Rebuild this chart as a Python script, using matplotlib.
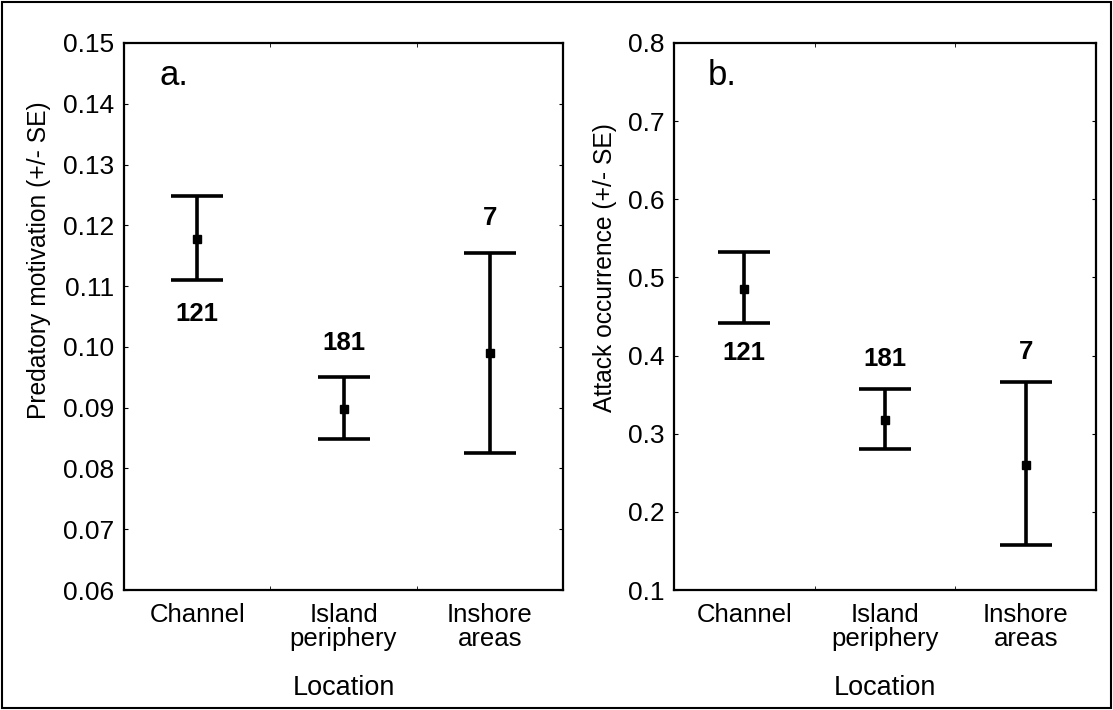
import matplotlib
matplotlib.use("Agg")
import matplotlib.pyplot as plt
from matplotlib.patches import Rectangle

plt.rcParams['font.family'] = ['Liberation Sans', 'DejaVu Sans']

categories = ["Channel", "Island\nperiphery", "Inshore\nareas"]
sample_sizes = ["121", "181", "7"]

# Panel a: predatory motivation
pm_mean = [0.1178, 0.0897, 0.0990]
pm_low = [0.1110, 0.0848, 0.0826]
pm_high = [0.1249, 0.0950, 0.1155]

# Panel b: attack occurrence
ao_mean = [0.485, 0.318, 0.260]
ao_low = [0.442, 0.280, 0.158]
ao_high = [0.532, 0.357, 0.366]

# label placement: 'below' or 'above'
pm_label_side = ["below", "above", "above"]
ao_label_side = ["below", "above", "above"]

fig = plt.figure(figsize=(11.13, 7.10), dpi=100)
fig.patches.append(Rectangle((0.002, 0.003), 0.996, 0.994, transform=fig.transFigure,
                             fill=False, edgecolor='black', linewidth=1.5))

W, H = 1113, 710
def ax_rect(l, r, t, b):
    return [l / W, 1 - b / H, (r - l) / W, (b - t) / H]

ax1 = fig.add_axes(ax_rect(124, 563, 43, 590))
ax2 = fig.add_axes(ax_rect(674, 1096, 43, 590))

def draw(ax, mean, low, high, sides, ylim, yticks, yfmt, ylabel, panel, off):
    x = [1, 2, 3]
    for xi, m, lo, hi, n, side in zip(x, mean, low, high, sample_sizes, sides):
        ax.errorbar([xi], [m], yerr=[[m - lo], [hi - m]], fmt='s', color='black',
                    markersize=6, elinewidth=2.6, capsize=19, capthick=2.6)
        if side == 'below':
            ax.annotate(n, (xi, lo), xytext=(0, -off), textcoords='offset points',
                        ha='center', va='top', fontsize=18.5, fontweight='bold')
        else:
            ax.annotate(n, (xi, hi), xytext=(0, off), textcoords='offset points',
                        ha='center', va='bottom', fontsize=18.5, fontweight='bold')
    ax.set_xlim(0.5, 3.5)
    ax.set_ylim(*ylim)
    ax.set_yticks(yticks)
    ax.set_yticklabels([yfmt.format(v) for v in yticks])
    ax.set_xticks([1, 2, 3])
    ax.set_xticklabels(categories, linespacing=1.05)
    ax.set_xticks([1.5, 2.5], minor=True)
    ax.tick_params(axis='x', which='major', length=0, labelsize=18.5, pad=9)
    ax.tick_params(axis='x', which='minor', direction='in', length=3, top=True, bottom=True)
    ax.tick_params(axis='y', direction='in', length=3, labelsize=19, right=True, pad=7)
    for s in ax.spines.values():
        s.set_linewidth(1.6)
    ax.set_ylabel(ylabel, fontsize=17.7)
    ax.set_xlabel("Location", fontsize=19.5, labelpad=17)
    ax.text(0.08, 0.97, panel, transform=ax.transAxes, fontsize=25, va='top', ha='left')

draw(ax1, pm_mean, pm_low, pm_high, pm_label_side, (0.06, 0.15),
     [0.06 + 0.01 * i for i in range(10)], "{:.2f}",
     "Predatory motivation (+/- SE)", "a.", 16)
draw(ax2, ao_mean, ao_low, ao_high, ao_label_side, (0.1, 0.8),
     [0.1 + 0.1 * i for i in range(8)], "{:.1f}",
     "Attack occurrence (+/- SE)", "b.", 13)

# position y labels (pixel x of label anchor, axes-fraction y)
ax1.yaxis.set_label_coords((51 - 124) / (563 - 124), 0.603)
ax2.yaxis.set_label_coords((617 - 674) / (1096 - 674), 0.589)

fig.savefig("out.png", dpi=100)
